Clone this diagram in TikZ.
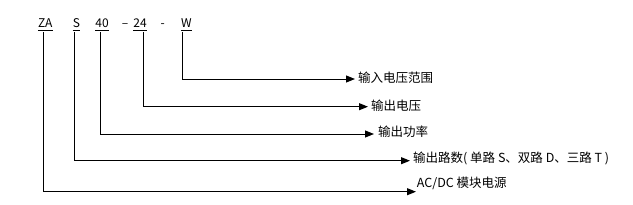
\documentclass[tikz,border=0pt]{standalone}
\usepackage{fontspec}
\setmainfont{Noto Sans CJK SC}
\usetikzlibrary{arrows.meta}
\begin{document}
\begin{tikzpicture}[x=1pt,y=-1pt,
  conn/.style={line width=1pt, -{Triangle[length=9pt,width=7pt]}},
  code/.style={font=\fontsize{12}{14}\selectfont, inner sep=0pt, anchor=base},
  lab/.style={font=\fontsize{12.5}{15}\selectfont, inner sep=0pt, anchor=west},
  uline/.style={line width=0.8pt}]
\useasboundingbox (0,0) rectangle (633,204);
% codes
\node[code] (za) at (45.3,27) {ZA};
\node[code] (s) at (76.5,27) {S};
\node[code] (n40) at (102,27) {40};
\node[code] (dash1) at (125,27) {–};
\node[code] (n24) at (140,27) {24};
\node[code] (dash2) at (162.8,27) {-};
\node[code] (w) at (186.3,27) {W};
% underlines
\foreach \n in {za,s,n40,n24,w}
  \draw[uline] ([yshift=-3pt]\n.base west) -- ([yshift=-3pt]\n.base east);
% labels
\node[lab] (l1) at (358,77.7) {输入电压范围};
\node[lab] (l2) at (371,105.7) {输出电压};
\node[lab] (l3) at (378,131.7) {输出功率};
\node[lab] (l4) at (413,158.3) {输出路数( 单路 S、双路 D、三路 T )};
\node[lab] (l5) at (416.7,183) {AC/DC 模块电源};
% connector start/end points
\coordinate (sw) at (182.3,32);
\coordinate (s24) at (143,32);
\coordinate (s40) at (100,32);
\coordinate (ss) at (74.3,32);
\coordinate (sza) at (43.3,32);
\coordinate (t1) at (355,79);
\coordinate (t2) at (368,106.7);
\coordinate (t3) at (374,134);
\coordinate (t4) at (410,160.7);
\coordinate (t5) at (416,191.7);
\draw[conn] (sw) |- (t1);
\draw[conn] (s24) |- (t2);
\draw[conn] (s40) |- (t3);
\draw[conn] (ss) |- (t4);
\draw[conn] (sza) |- (t5);
\end{tikzpicture}
\end{document}
